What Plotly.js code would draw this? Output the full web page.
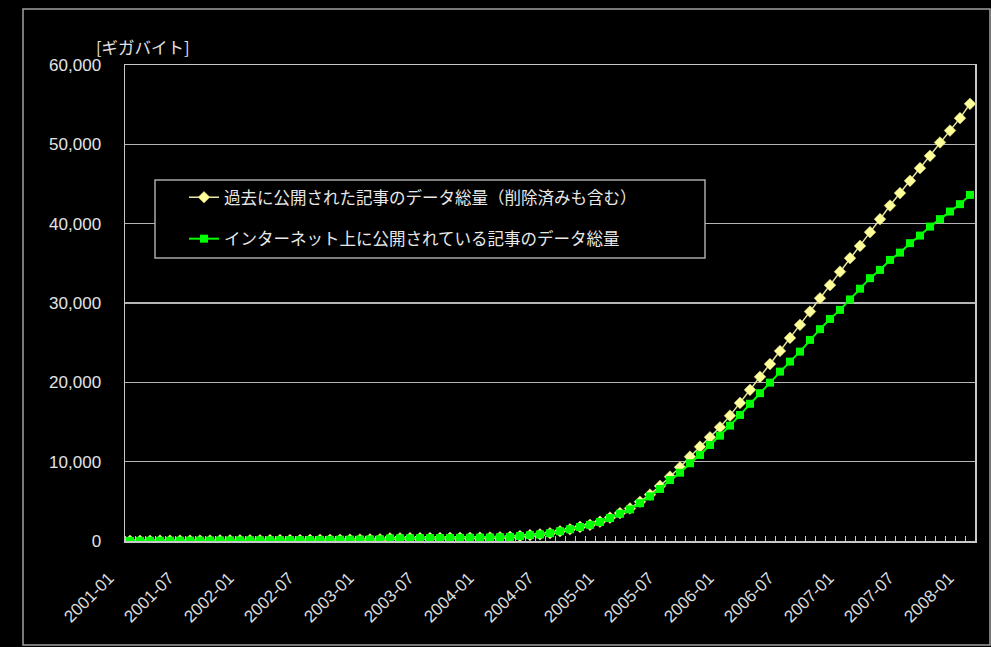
<!DOCTYPE html>
<html>
<head>
<meta charset="utf-8">
<script src="https://cdn.plot.ly/plotly-3.0.1.min.js"></script>
<style>
html,body{margin:0;padding:0;background:#000;}
#chart{width:991px;height:647px;}
</style>
</head>
<body>
<div id="chart"></div>
<script>
// Monthly categories 2001-01 .. 2008-01
const months = [
  "2001-01","2001-02","2001-03","2001-04","2001-05","2001-06","2001-07","2001-08","2001-09","2001-10","2001-11","2001-12",
  "2002-01","2002-02","2002-03","2002-04","2002-05","2002-06","2002-07","2002-08","2002-09","2002-10","2002-11","2002-12",
  "2003-01","2003-02","2003-03","2003-04","2003-05","2003-06","2003-07","2003-08","2003-09","2003-10","2003-11","2003-12",
  "2004-01","2004-02","2004-03","2004-04","2004-05","2004-06","2004-07","2004-08","2004-09","2004-10","2004-11","2004-12",
  "2005-01","2005-02","2005-03","2005-04","2005-05","2005-06","2005-07","2005-08","2005-09","2005-10","2005-11","2005-12",
  "2006-01","2006-02","2006-03","2006-04","2006-05","2006-06","2006-07","2006-08","2006-09","2006-10","2006-11","2006-12",
  "2007-01","2007-02","2007-03","2007-04","2007-05","2007-06","2007-07","2007-08","2007-09","2007-10","2007-11","2007-12",
  "2008-01"
];

// Tick labels shown every 6 months
const tickLabels = ["2001-01","2001-07","2002-01","2002-07","2003-01","2003-07","2004-01","2004-07",
  "2005-01","2005-07","2006-01","2006-07","2007-01","2007-07","2008-01"];

// Series names
const nameTotal = "過去に公開された記事のデータ総量（削除済みも含む）";
const nameOnline = "インターネット上に公開されている記事のデータ総量";

// Total data volume incl. deleted (GB)
const totalGB = [
  20,25,30,35,40,45,50,55,60,70,75,80,
  90,95,100,110,115,120,130,140,150,160,170,180,
  195,210,320,340,350,360,370,380,390,400,410,420,
  440,470,520,620,740,830,980,1230,1480,1770,2040,2430,
  2950,3520,4100,4950,5850,6940,8110,9290,10630,11890,13080,14340,
  15800,17400,19050,20700,22300,23950,25600,27250,28920,30600,32250,33950,
  35650,37200,38930,40570,42280,43850,45400,47000,48550,50230,51740,53300,
  55110
];

// Data volume currently online (GB)
const onlineGB = [
  20,25,30,35,40,45,50,55,60,70,75,80,
  90,95,100,110,115,120,130,140,150,160,170,180,
  195,210,320,340,350,360,370,380,390,400,410,420,
  440,470,520,620,740,830,980,1230,1480,1770,2040,2400,
  2900,3440,3990,4770,5620,6560,7690,8610,9800,10845,12110,13280,
  14540,15890,17300,18630,19960,21350,22610,23870,25350,26700,27990,29130,
  30450,31800,33130,34170,35430,36350,37540,38500,39630,40570,41530,42460,
  43630
];

const xIdx = months.map((m, i) => i);
const tickIdx = tickLabels.map(t => months.indexOf(t));

const latin = "Liberation Sans, Arial, sans-serif";
const cjk = "Noto Sans CJK JP, sans-serif";

const traces = [
  {
    x: xIdx, y: totalGB, name: nameTotal, type: "scatter", mode: "lines+markers",
    line: {color: "#e6e6a0", width: 1.5},
    marker: {symbol: "diamond", size: 9, color: "#ffff99", line: {color: "#d8d880", width: 0.5}},
    legendgroup: "a"
  },
  {
    x: xIdx, y: onlineGB, name: nameOnline, type: "scatter", mode: "lines+markers",
    line: {color: "#00ff00", width: 2},
    marker: {symbol: "square", size: 8, color: "#00ff00"},
    legendgroup: "b"
  }
];

const L = 125, R = 975, T = 65, B = 541;
const px2x = p => (p - L) / (R - L);
const px2y = p => (B - p) / (B - T);

const layout = {
  width: 991, height: 647,
  margin: {l: 125, r: 16, t: 65, b: 106},
  paper_bgcolor: "#000", plot_bgcolor: "#000",
  showlegend: true,
  xaxis: {
    type: "linear", range: [-0.5, 84.5],
    tickmode: "array", tickvals: tickIdx, ticktext: tickLabels,
    tickangle: -45, ticks: "", ticklabelstandoff: 19, ticklabelshift: -21,
    tickfont: {family: latin, size: 17, color: "#dcdcdc"},
    showgrid: false, zeroline: false,
    showline: true, linecolor: "#c8c8c8", linewidth: 1.5, mirror: true,
    minor: {tick0: -0.5, dtick: 1, ticks: "inside", ticklen: 5, tickwidth: 1, tickcolor: "#c8c8c8", showgrid: false}
  },
  yaxis: {
    range: [0, 60000], dtick: 10000, tickformat: ",d",
    tickfont: {family: latin, size: 17, color: "#e4e4e4"},
    ticks: "", ticklabelstandoff: 19,
    showgrid: true, gridcolor: "#b4b4b4", gridwidth: 1.5,
    zeroline: false,
    showline: true, linecolor: "#c8c8c8", linewidth: 1.5, mirror: true
  },
  legend: {
    x: px2x(184), y: px2y(180), xanchor: "left", yanchor: "top",
    bgcolor: "rgba(0,0,0,0)", borderwidth: 0,
    font: {family: cjk, size: 16.5, color: "#e8e8e8"},
    traceorder: "grouped", tracegroupgap: 17
  },
  shapes: [
    {type: "rect", xref: "paper", yref: "paper",
     x0: px2x(155), x1: px2x(705), y0: px2y(258), y1: px2y(180),
     fillcolor: "#000", line: {color: "#a8a8a8", width: 1.5}, layer: "above"},
    {type: "rect", xref: "paper", yref: "paper",
     x0: px2x(23), x1: px2x(990), y0: px2y(645), y1: px2y(9),
     fillcolor: "rgba(0,0,0,0)", line: {color: "#a0a0a0", width: 1.5}, layer: "below"}
  ],
  annotations: [
    {text: "[ギガバイト]", xref: "paper", yref: "paper", x: px2x(94), y: px2y(47),
     xanchor: "left", yanchor: "middle", showarrow: false,
     font: {family: cjk, size: 16.5, color: "#e4e4e4"}}
  ]
};

Plotly.newPlot("chart", traces, layout, {displayModeBar: false, staticPlot: true});
</script>
</body>
</html>
